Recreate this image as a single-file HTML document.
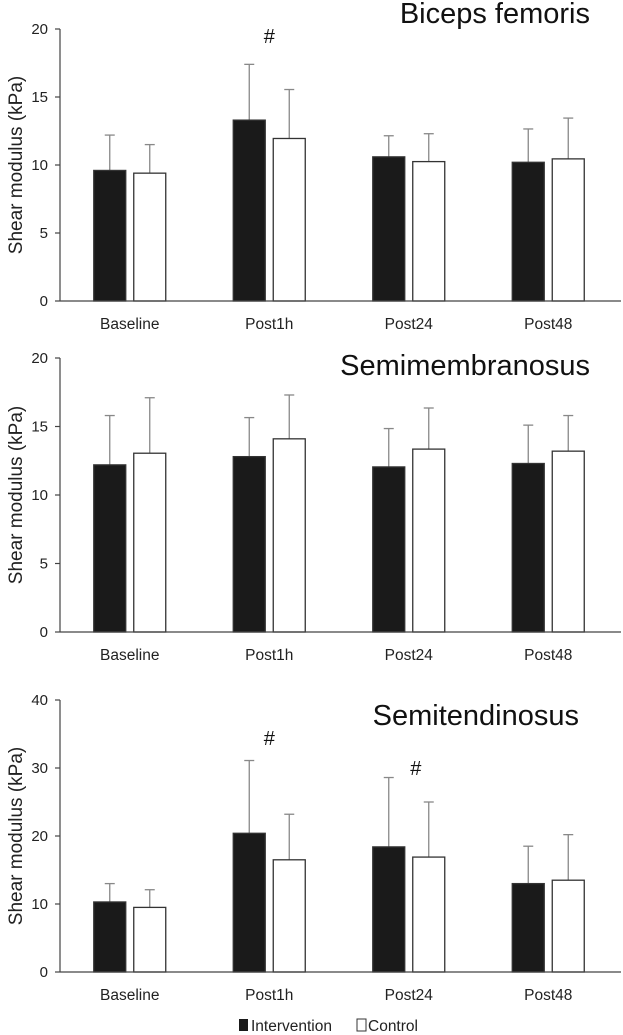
<!DOCTYPE html>
<html><head><meta charset="utf-8"><style>
body{margin:0;background:#fff;}
svg{display:block;font-family:"Liberation Sans",Arial,sans-serif;}
</style></head><body>
<svg id="chart" width="623" height="1035" xmlns="http://www.w3.org/2000/svg"></svg>
<script>
const categories = ["Baseline","Post1h","Post24","Post48"];
const titles = ["Biceps femoris","Semimembranosus","Semitendinosus"];
const yMaxes = [20,20,40];
const yTicks1 = [0,5,10,15,20];
const yTicks2 = [0,5,10,15,20];
const yTicks3 = [0,10,20,30,40];
const intervention1 = [9.6,13.3,10.6,10.2];
const interventionSd1 = [2.6,4.1,1.55,2.45];
const control1 = [9.4,11.95,10.25,10.45];
const controlSd1 = [2.1,3.6,2.05,3.0];
const intervention2 = [12.2,12.8,12.05,12.3];
const interventionSd2 = [3.6,2.85,2.8,2.8];
const control2 = [13.05,14.1,13.35,13.2];
const controlSd2 = [4.05,3.2,3.0,2.6];
const intervention3 = [10.3,20.4,18.4,13.0];
const interventionSd3 = [2.7,10.7,10.2,5.5];
const control3 = [9.5,16.5,16.9,13.5];
const controlSd3 = [2.6,6.7,8.1,6.7];
const hashes1 = [1];
const hashes2 = [];
const hashes3 = [1,2];

const NS="http://www.w3.org/2000/svg";
const svg=document.getElementById('chart');
function mk(tag,attrs,parent){const e=document.createElementNS(NS,tag);for(const k in attrs)e.setAttribute(k,attrs[k]);(parent||svg).appendChild(e);return e;}

const panels=[
 {top:29,bottom:301,ticks:yTicks1,iv:intervention1,ivs:interventionSd1,cv:control1,cvs:controlSd1,hashes:hashes1,hy:[43],ty:23,tx:590},
 {top:358,bottom:632,ticks:yTicks2,iv:intervention2,ivs:interventionSd2,cv:control2,cvs:controlSd2,hashes:hashes2,hy:[],ty:375,tx:590},
 {top:700,bottom:972,ticks:yTicks3,iv:intervention3,ivs:interventionSd3,cv:control3,cvs:controlSd3,hashes:hashes3,hy:[745,775],ty:725,tx:579}
];
const x0=60,x1=618,band=(x1-x0)/categories.length,bw=32,gap=8;
panels.forEach((p,pi)=>{
  const g=mk('g',{});
  
  
  const ymax=yMaxes[pi];
  const y=v=>p.bottom-(v/ymax)*(p.bottom-p.top);
  const xc=i=>x0+band*(i+0.5);
  const ya=mk('line',{x1:x0,y1:p.top,x2:x0,y2:p.bottom,stroke:'#444','stroke-width':1.2},g);
  
  
  p.ticks.forEach(t=>{
    mk('line',{x1:x0-5,y1:y(t),x2:x0,y2:y(t),stroke:'#444','stroke-width':1.2},g);
    const tl=mk('text',{x:x0-12,y:y(t)+5,'text-anchor':'end','font-size':15,fill:'#222'},g);
    tl.textContent=t;
    
    
  });
  const yt=mk('text',{transform:`translate(22,${(p.top+p.bottom)/2}) rotate(-90)`,'text-anchor':'middle','font-size':19,fill:'#222'},g);
  yt.textContent='Shear modulus (kPa)';
  
  
  const tt=mk('text',{x:p.tx,y:p.ty,'text-anchor':'end','font-size':29,fill:'#111'},g);
  tt.textContent=titles[pi];
  
  
  categories.forEach((c,i)=>{
    const cx=xc(i);
    const series=[[p.iv[i],p.ivs[i],'#1a1a1a',cx-gap/2-bw,'bar-intervention'],[p.cv[i],p.cvs[i],'#fff',cx+gap/2,'bar-control']];
    series.forEach(s=>{
      const [v,sd,fill,bx,nm]=s;
      const ex=bx+bw/2;
      const el=mk('line',{x1:ex,y1:y(v),x2:ex,y2:y(v+sd),stroke:'#888','stroke-width':1.3},g);
      
      
      mk('line',{x1:ex-5,y1:y(v+sd),x2:ex+5,y2:y(v+sd),stroke:'#888','stroke-width':1.3},g);
      const r=mk('rect',{x:bx,y:y(v),width:bw,height:p.bottom-y(v),fill:fill,stroke:'#333','stroke-width':1.3},g);
      
      
    });
    const cl=mk('text',{x:cx,y:p.bottom+28,'text-anchor':'middle','font-size':15.5,fill:'#222'},g);
    cl.textContent=c;
    
    
  });
  p.hashes.forEach((hi,k)=>{
    const h=mk('text',{x:xc(hi)+(k==1?7:0),y:p.hy[k],'text-anchor':'middle','font-size':20,fill:'#111'},g);
    h.textContent='#';
    
    
  });
  const xa=mk('line',{x1:x0,y1:p.bottom,x2:621,y2:p.bottom,stroke:'#444','stroke-width':1.2},g);
  
  
});
const lg=mk('g',{});


const l1=mk('rect',{x:239,y:1019,width:9,height:12,fill:'#1a1a1a'},lg);


const t1=mk('text',{x:251,y:1031,'font-size':15.5,fill:'#222'},lg);t1.textContent='Intervention';


const l2=mk('rect',{x:357,y:1019,width:9,height:12,fill:'#fff',stroke:'#333','stroke-width':1},lg);


const t2=mk('text',{x:368,y:1031,'font-size':15.5,fill:'#222'},lg);t2.textContent='Control';


</script>
</body></html>
